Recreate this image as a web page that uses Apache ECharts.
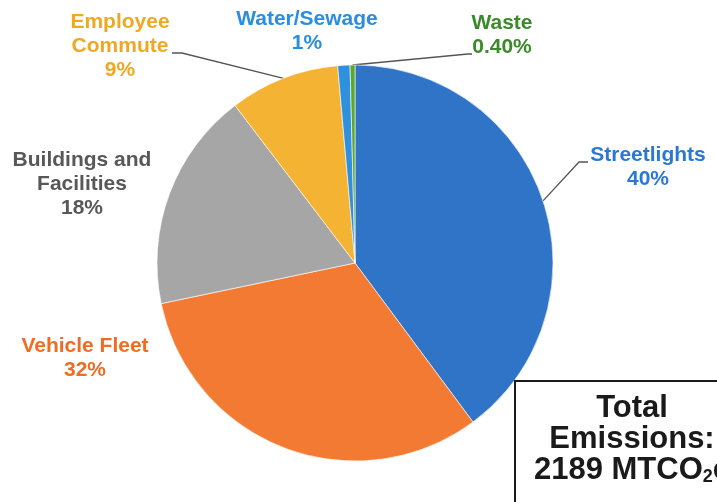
<!DOCTYPE html>
<html>
<head>
<meta charset="utf-8">
<script src="https://cdn.jsdelivr.net/npm/echarts@6/dist/echarts.min.js"></script>
<style>
  html, body { margin: 0; padding: 0; background: #fff; }
  #emissions_pie { width: 717px; height: 502px; }
</style>
</head>
<body>
<div id="emissions_pie"></div>
<script>
// data, clockwise from 12 o'clock
const categories = ['Streetlights', 'Vehicle Fleet', 'Buildings and\nFacilities', 'Employee\nCommute', 'Water/Sewage', 'Waste'];
const shares = [40, 32, 18, 9, 1, 0.4];
const shareText = ['40%', '32%', '18%', '9%', '1%', '0.40%'];
const sliceColors = ['#2f74c6', '#f27a32', '#a6a6a6', '#f4b333', '#2f91de', '#5fa62c'];
const textColors = ['#2a78d6', '#f06c22', '#585858', '#f0a822', '#2a8ee0', '#3a8a2a'];
const showLine = [true, false, false, true, false, true];
const totalLines = ['Total', 'Emissions:', '2189 MTCO{sub|2}e'];

const fontFam = '"Liberation Sans", Arial, sans-serif';

// where each label sits, and the bend / end of its leader line
const labelSpots = [
  { x: 648, y: 167, line: [[579, 162], [588, 162]] },
  { x: 85, y: 358 },
  { x: 82, y: 184 },
  { x: 120, y: 46, line: [[182, 53], [172, 53]] },
  { x: 307, y: 31 },
  { x: 502, y: 35, line: [[468, 54], [472, 54]] }
];

var dom = document.getElementById('emissions_pie');
var myChart = echarts.init(dom, null, { renderer: 'canvas' });

var seriesData = categories.map(function (name, i) {
  return {
    name: name,
    value: shares[i],
    itemStyle: { color: sliceColors[i] },
    label: { color: textColors[i] },
    labelLine: { show: showLine[i] }
  };
});

var option = {
  backgroundColor: '#ffffff',
  animation: false,
  series: [
    {
      type: 'pie',
      center: [355, 263],
      radius: 198,
      startAngle: 90,
      clockwise: true,
      avoidLabelOverlap: false,
      data: seriesData,
      itemStyle: { borderColor: '#ffffff', borderWidth: 0.6 },
      label: {
        show: true,
        position: 'outside',
        fontFamily: fontFam,
        fontWeight: 'bold',
        fontSize: 21,
        lineHeight: 24,
        align: 'center',
        formatter: function (p) {
          return p.name + '\n' + shareText[p.dataIndex];
        }
      },
      labelLine: {
        length: 20,
        length2: 10,
        lineStyle: { color: '#555555', width: 1.3 }
      },
      emphasis: { disabled: true }
    }
  ],
  graphic: [
    {
      type: 'rect',
      shape: { x: 515, y: 381, width: 240, height: 160 },
      style: { fill: '#ffffff', stroke: '#1a1a1a', lineWidth: 2 },
      z: 10
    },
    {
      type: 'text',
      x: 632,
      y: 439,
      z: 11,
      style: {
        text: totalLines.join('\n'),
        align: 'center',
        verticalAlign: 'middle',
        fontFamily: fontFam,
        fontWeight: 'bold',
        fontSize: 31,
        lineHeight: 31,
        fill: '#1a1a1a',
        rich: {
          sub: {
            fontFamily: fontFam,
            fontWeight: 'bold',
            fontSize: 18,
            fill: '#1a1a1a',
            padding: [14, 0, 0, 0]
          }
        }
      }
    }
  ]
};

option.series[0].labelLayout = function (params) {
  var spot = labelSpots[params.dataIndex];
  var out = { x: spot.x, y: spot.y, align: 'center', verticalAlign: 'middle' };
  if (spot.line && params.labelLinePoints) {
    out.labelLinePoints = [params.labelLinePoints[0], spot.line[0], spot.line[1]];
  }
  return out;
};

if (option && typeof option === 'object') {
  myChart.setOption(option);
}

window.addEventListener('resize', myChart.resize);
</script>
</body>
</html>
